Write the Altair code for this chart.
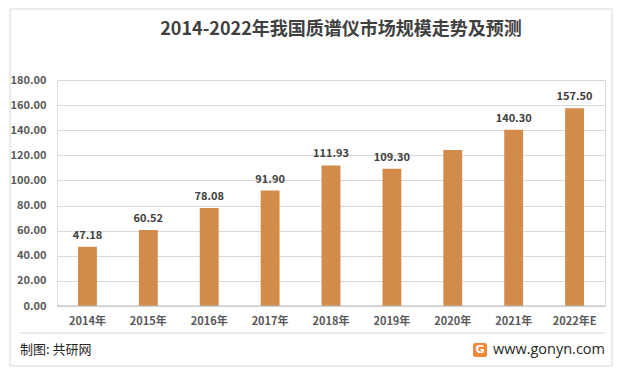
import altair as alt
import pandas as pd

years = ["2014年", "2015年", "2016年", "2017年", "2018年", "2019年", "2020年", "2021年", "2022年E"]
values = [47.18, 60.52, 78.08, 91.90, 111.93, 109.30, 124.20, 140.30, 157.50]
labels = ["47.18", "60.52", "78.08", "91.90", "111.93", "109.30", "", "140.30", "157.50"]
y_ticks = [0, 20, 40, 60, 80, 100, 120, 140, 160, 180]
title_text = "2014-2022年我国质谱仪市场规模走势及预测"
source_text = "制图: 共研网"
site_text = "www.gonyn.com"

df = pd.DataFrame({"year": years, "value": values, "label": labels})
one = pd.DataFrame({"k": [0]})

W, H = 548, 226
FONT = "Noto Sans CJK SC"

yscale = alt.Scale(domain=[0, 180], nice=False)
yaxis = alt.Axis(title=None, values=y_ticks, tickCount=20, format=".2f", labelFontSize=11, labelFont=FONT,
                 labelColor="#595959", labelFontWeight="bold", domain=False, ticks=False,
                 grid=True, gridColor="#D9D9D9", labelOverlap=False, labelPadding=11)

xenc = alt.X("year:N", sort=years, scale=alt.Scale(paddingInner=0.69, paddingOuter=0.345),
             axis=alt.Axis(title=None, labelAngle=0, labelFontSize=11, labelFont=FONT,
                           labelColor="#595959", labelFontWeight="bold", domain=False, ticks=False,
                           labelPadding=9))

bars = alt.Chart(df).mark_bar(color="#D38B4B").encode(
    x=xenc, y=alt.Y("value:Q", scale=yscale, axis=yaxis))
text = alt.Chart(df).mark_text(dy=-11, fontSize=11, fontWeight="bold", font=FONT, color="#404040").encode(
    x=alt.X("year:N", sort=years), y=alt.Y("value:Q"), text="label:N")

border = alt.Chart(one).mark_rect(fill=None, stroke="#D9D9D9", strokeWidth=1).encode(
    x=alt.value(-47), x2=alt.value(555), y=alt.value(-71), y2=alt.value(286))
sep = alt.Chart(one).mark_rule(color="#D9D9D9").encode(
    x=alt.value(-37), x2=alt.value(548), y=alt.value(253))
base = alt.Chart(one).mark_rule(color="#BFBFBF").encode(
    x=alt.value(0), x2=alt.value(W), y=alt.value(H))
title = alt.Chart(one).mark_text(text=title_text, fontSize=18, fontWeight="bold", font=FONT,
                                 color="#404040", align="center", baseline="middle").encode(
    x=alt.value(284), y=alt.value(-50))
src = alt.Chart(one).mark_text(text=source_text, fontSize=13, font=FONT, color="#262626",
                               align="left", baseline="middle").encode(x=alt.value(-37), y=alt.value(270))
site = alt.Chart(one).mark_text(text=site_text, fontSize=14.5, font="Open Sans", color="#262626",
                                align="right", baseline="middle").encode(x=alt.value(548), y=alt.value(270))
logo = alt.Chart(one).mark_rect(color="#F08A3C", cornerRadius=2).encode(
    x=alt.value(416), x2=alt.value(430), y=alt.value(263), y2=alt.value(277))
logo_t = alt.Chart(one).mark_text(text="G", fontSize=11, fontWeight="bold", font="DejaVu Sans",
                                  color="white", align="center", baseline="middle").encode(
    x=alt.value(423), y=alt.value(270))

chart = alt.layer(border, bars, base, text, title, sep, src, logo, logo_t, site).properties(
    width=W, height=H,
    autosize=alt.AutoSizeParams(type="none"),
    padding={"left": 49, "top": 72, "right": 9, "bottom": 61},
).configure_view(stroke=None).configure(background="white")

chart.save("out.html", embed_options={"renderer": "svg", "actions": False})
